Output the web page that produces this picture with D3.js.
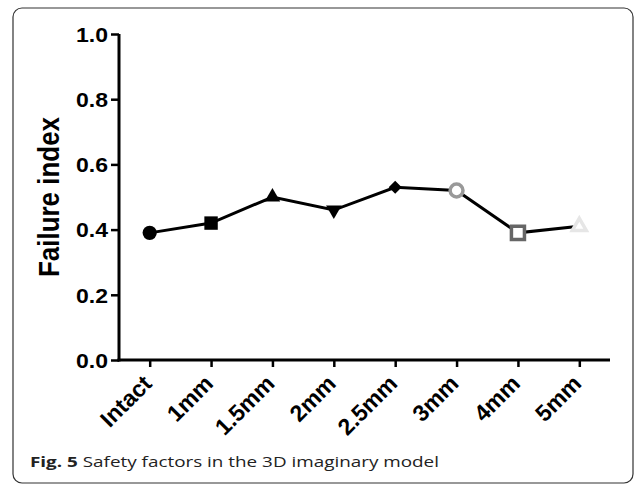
<!DOCTYPE html>
<html>
<head>
<meta charset="utf-8">
<script src="https://cdn.jsdelivr.net/npm/d3@7"></script>
<style>
  body { margin: 0; background: #fff; }
  svg { display: block; }
</style>
</head>
<body>
<svg width="634" height="485"></svg>
<script>
const width = 634
const height = 485
const margin = { top: 34, right: 24, bottom: 125, left: 119 }

const groups = ['Intact', '1mm', '1.5mm', '2mm', '2.5mm', '3mm', '4mm', '5mm']
const failure = [0.39, 0.42, 0.50, 0.46, 0.53, 0.52, 0.39, 0.41]
const yTicks = [0, 0.2, 0.4, 0.6, 0.8, 1.0]

// marker per group: shape, size, fill, stroke, rotation
const markers = [
  { type: d3.symbolCircle, size: 160, fill: '#000', stroke: 'none', rot: 0 },
  { type: d3.symbolSquare, size: 180, fill: '#000', stroke: 'none', rot: 0 },
  { type: d3.symbolTriangle, size: 105, fill: '#000', stroke: 'none', rot: 0 },
  { type: d3.symbolTriangle, size: 105, fill: '#000', stroke: 'none', rot: 180 },
  { type: d3.symbolSquare, size: 85, fill: '#000', stroke: 'none', rot: 45 },
  { type: d3.symbolCircle, size: 130, fill: '#fff', stroke: '#999', rot: 0 },
  { type: d3.symbolSquare, size: 170, fill: '#fff', stroke: '#666', rot: 0 },
  { type: d3.symbolTriangle, size: 85, fill: '#fff', stroke: '#e6e6e6', rot: 0 }
]

const svg = d3.select('svg')

// frame
svg.append('rect')
  .attr('x', 13)
  .attr('y', 8)
  .attr('width', 620)
  .attr('height', 475)
  .attr('rx', 9)
  .attr('fill', 'none')
  .attr('stroke', '#333')
  .attr('stroke-width', 1.2)

const x = d3.scalePoint()
  .domain(groups)
  .range([margin.left, width - margin.right])
  .padding(0.5)

const y = d3.scaleLinear()
  .domain([0, 1])
  .range([height - margin.bottom, margin.top])

// axes
const xAxis = svg.append('g')
  .attr('transform', `translate(0, ${height - margin.bottom})`)
  .call(d3.axisBottom(x).tickSize(7).tickSizeOuter(0))

xAxis.select('.domain')
  .attr('stroke-width', 3)
  .attr('d', `M${margin.left - 1.5},0H${width - margin.right}`)
xAxis.selectAll('.tick line').attr('stroke-width', 2.5)
xAxis.selectAll('.tick text')
  .attr('x', 0)
  .attr('y', 0)
  .attr('dy', 0)
  .attr('transform', 'translate(3, 25) rotate(-45)')
  .attr('text-anchor', 'end')
  .style('font-family', '"Liberation Sans", Arial, sans-serif')
  .style('font-weight', 'bold')
  .style('font-size', '23px')
  .attr('fill', '#000')

const yAxis = svg.append('g')
  .attr('transform', `translate(${margin.left}, 0)`)
  .call(d3.axisLeft(y).tickValues(yTicks).tickFormat(d3.format('.1f')).tickSize(8).tickSizeOuter(0))

yAxis.select('.domain')
  .attr('stroke-width', 3)
  .attr('d', `M0,${y(1)}V${height - margin.bottom + 1.5}`)
yAxis.selectAll('.tick line').attr('stroke-width', 2.5)
yAxis.selectAll('.tick text')
  .attr('x', -11)
  .attr('dy', '0.36em')
  .attr('textLength', 32)
  .attr('lengthAdjust', 'spacingAndGlyphs')
  .style('font-family', '"Liberation Sans", Arial, sans-serif')
  .style('font-weight', 'bold')
  .style('font-size', '20px')
  .attr('fill', '#000')

svg.append('text')
  .attr('transform', `translate(59, ${(y(0) + y(1)) / 2}) scale(1.25, 1) rotate(-90)`)
  .attr('text-anchor', 'middle')
  .attr('textLength', 160)
  .attr('lengthAdjust', 'spacingAndGlyphs')
  .style('font-family', '"Liberation Sans", Arial, sans-serif')
  .style('font-weight', 'bold')
  .style('font-size', '23px')
  .text('Failure index')

// line
const line = d3.line()
  .x((d, i) => x(groups[i]))
  .y(d => y(d))

svg.append('path')
  .datum(failure)
  .attr('fill', 'none')
  .attr('stroke', '#000')
  .attr('stroke-width', 3)
  .attr('d', line)

// markers
svg.selectAll('.marker')
  .data(failure)
  .enter().append('path')
  .attr('class', 'marker')
  .attr('transform', (d, i) => `translate(${x(groups[i])}, ${y(d)}) rotate(${markers[i].rot})`)
  .attr('d', (d, i) => d3.symbol().type(markers[i].type).size(markers[i].size)())
  .attr('fill', (d, i) => markers[i].fill)
  .attr('stroke', (d, i) => markers[i].stroke)
  .attr('stroke-width', 3.5)

// caption
const caption = svg.append('text')
  .attr('x', 30)
  .attr('y', 467)
  .attr('textLength', 409)
  .attr('lengthAdjust', 'spacingAndGlyphs')
  .style('font-family', '"Open Sans", sans-serif')
  .style('font-size', '15px')
  .attr('fill', '#222')
caption.append('tspan').style('font-weight', 'bold').text('Fig. 5')
caption.append('tspan').text(' Safety factors in the 3D imaginary model')
</script>
</body>
</html>
